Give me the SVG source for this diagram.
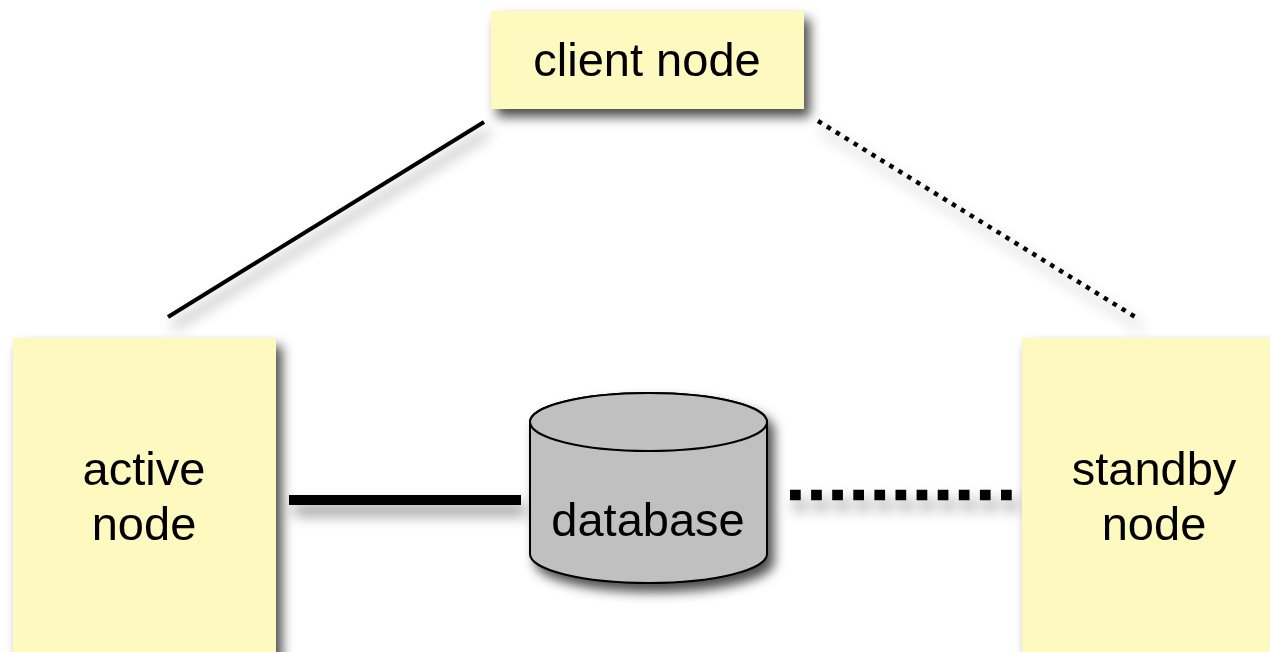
<svg xmlns="http://www.w3.org/2000/svg" width="1270" height="652" viewBox="0 0 1270 652">
<style>
.box{fill:#FEF9BE;}
.lbl{font-family:"Liberation Sans",Arial,sans-serif;font-size:47px;fill:#000;text-anchor:middle;}
.db{fill:#C0C0C0;stroke:#000;stroke-width:2;}
</style>
<defs>
<filter id="sh" x="-20%" y="-20%" width="150%" height="150%">
<feDropShadow dx="6" dy="8" stdDeviation="6" flood-color="#000" flood-opacity="0.7"/>
</filter>
<filter id="lsh" x="-20%" y="-100%" width="140%" height="400%">
<feDropShadow dx="5" dy="10" stdDeviation="7" flood-color="#000" flood-opacity="0.45"/>
</filter>
</defs>
<rect width="1270" height="652" fill="#fff"/>
<g id="connectors" fill="none" stroke="#000" filter="url(#lsh)">
<line x1="168" y1="317" x2="484" y2="122" stroke-width="4"/>
<line x1="818" y1="121" x2="1137" y2="318" stroke-width="4.5" stroke-dasharray="4.5 6"/>
<line x1="289" y1="500" x2="521" y2="500" stroke-width="10"/>
<line x1="790" y1="495" x2="1012" y2="495" stroke-width="10.5" stroke-dasharray="10.7 10.4"/>
</g>
<g id="client" filter="url(#sh)">
<rect class="box" x="491" y="11" width="313" height="98"/>
<text class="lbl" x="647" y="76">client node</text>
</g>
<g id="active" filter="url(#sh)">
<rect class="box" x="13" y="338" width="263" height="330"/>
<text class="lbl" x="144" y="485">active</text>
<text class="lbl" x="144" y="540">node</text>
</g>
<g id="standby" filter="url(#sh)">
<rect class="box" x="1022" y="338" width="270" height="330"/>
<text class="lbl" x="1154" y="485">standby</text>
<text class="lbl" x="1154" y="540">node</text>
</g>
<g id="database" filter="url(#sh)">
<path class="db" d="M530,422 L530,554 A118.5,29 0 0 0 767,554 L767,422 A118.5,29 0 0 0 530,422 Z"/>
<ellipse class="db" cx="648.5" cy="422" rx="118.5" ry="29"/>
<text class="lbl" x="648" y="536">database</text>
</g>
</svg>
